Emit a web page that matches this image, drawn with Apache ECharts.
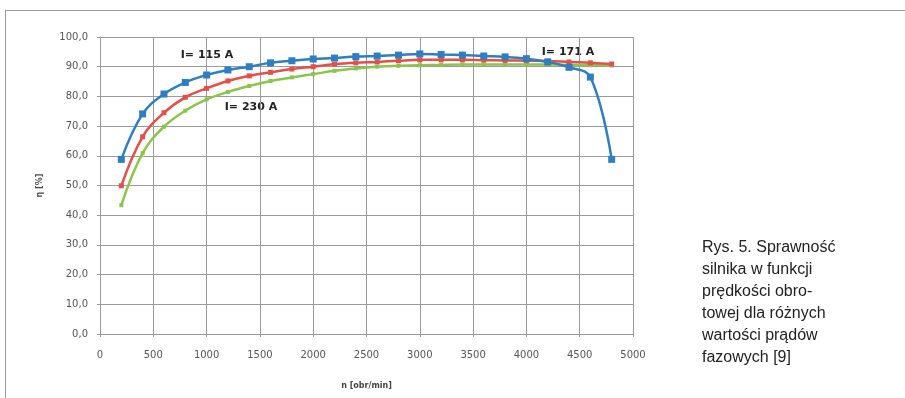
<!DOCTYPE html>
<html>
<head>
<meta charset="utf-8">
<script src="https://cdn.jsdelivr.net/npm/echarts@6/dist/echarts.min.js"></script>
<style>
  html, body { margin: 0; padding: 0; background: #fff; }
  #chart { width: 905px; height: 398px; }
</style>
</head>
<body>
<div id="chart"></div>
<script>
// prędkość obrotowa [obr/min]
var speeds = [200, 400, 600, 800, 1000, 1200, 1400, 1600, 1800, 2000, 2200, 2400,
  2600, 2800, 3000, 3200, 3400, 3600, 3800, 4000, 4200, 4400, 4600, 4800]
// sprawność [%] dla I = 115 A
var eta115 = [58.8, 74.1, 80.8, 84.7, 87.2, 88.9, 90.0, 91.3, 92.0, 92.6, 92.9, 93.4,
  93.6, 93.9, 94.3, 94.1, 93.9, 93.6, 93.3, 92.7, 91.6, 89.8, 86.5, 58.8]
// I = 171 A
var eta171 = [49.9, 66.4, 74.5, 79.7, 82.7, 85.2, 86.9, 88.1, 89.2, 90.0, 90.8, 91.3,
  91.6, 92.0, 92.3, 92.3, 92.3, 92.2, 92.1, 92.0, 91.9, 91.6, 91.3, 90.9]
// I = 230 A
var eta230 = [43.4, 60.9, 69.8, 75.2, 79.0, 81.5, 83.5, 85.2, 86.4, 87.5, 88.6, 89.4,
  90.0, 90.3, 90.5, 90.6, 90.7, 90.7, 90.7, 90.7, 90.7, 90.6, 90.5, 90.4]
var captionLines = ['Rys. 5. Sprawność', 'silnika w funkcji', 'prędkości obro-',
  'towej dla różnych', 'wartości prądów', 'fazowych [9]']

function pairs (ys) {
  return speeds.map(function (x, i) { return [x, ys[i]] })
}

var labelStyle = {
  fontFamily: 'DejaVu Sans',
  fontSize: 11,
  fontWeight: 'bold',
  fill: '#222'
}

var option = {
  animation: false,
  backgroundColor: '#fff',
  textStyle: { fontFamily: 'DejaVu Sans' },
  grid: { left: 100, top: 37, right: 272, bottom: 64 },
  xAxis: {
    type: 'value',
    min: 0,
    max: 5000,
    interval: 500,
    name: 'n [obr/min]',
    nameLocation: 'middle',
    nameGap: 48,
    nameTextStyle: { fontSize: 8, fontWeight: 'bold', color: '#444' },
    axisLine: { lineStyle: { color: '#999' } },
    axisTick: { show: true, length: 3, lineStyle: { color: '#999' } },
    axisLabel: {
      fontSize: 10,
      color: '#555',
      margin: 16,
      formatter: function (v) { return String(v) }
    },
    splitLine: { lineStyle: { color: '#9a9a9a', width: 1 } }
  },
  yAxis: {
    type: 'value',
    min: 0,
    max: 100,
    interval: 10,
    name: 'η [%]',
    nameLocation: 'middle',
    nameGap: 56,
    nameRotate: 90,
    nameTextStyle: { fontSize: 8, fontWeight: 'bold', color: '#444' },
    axisLine: { show: true, lineStyle: { color: '#999' } },
    axisTick: { show: true, length: 3, lineStyle: { color: '#999' } },
    axisLabel: {
      fontSize: 10,
      color: '#555',
      margin: 12,
      formatter: function (v) { return v.toFixed(1).replace('.', ',') }
    },
    splitLine: { lineStyle: { color: '#9a9a9a', width: 1 } }
  },
  series: [
    {
      name: 'I= 230 A',
      type: 'line',
      smooth: 0.4,
      data: pairs(eta230),
      showAllSymbol: true,
      symbol: 'rect',
      symbolSize: 4,
      lineStyle: { color: '#8cc44e', width: 2.5 },
      itemStyle: { color: '#8cc44e' },
      z: 2
    },
    {
      name: 'I= 171 A',
      type: 'line',
      smooth: 0.4,
      data: pairs(eta171),
      showAllSymbol: true,
      symbol: 'rect',
      symbolSize: 5,
      lineStyle: { color: '#e2504a', width: 2.5 },
      itemStyle: { color: '#e2504a' },
      z: 3
    },
    {
      name: 'I= 115 A',
      type: 'line',
      smooth: 0.4,
      data: pairs(eta115),
      showAllSymbol: true,
      symbol: 'rect',
      symbolSize: 7,
      lineStyle: { color: '#2f7ebf', width: 2.5 },
      itemStyle: { color: '#2f7ebf' },
      z: 4
    }
  ],
  graphic: [
    // ramka rysunku (góra i lewa krawędź)
    { type: 'line', shape: { x1: 5, y1: 10.5, x2: 905, y2: 10.5 }, style: { stroke: '#999', lineWidth: 1 } },
    { type: 'line', shape: { x1: 5.5, y1: 10, x2: 5.5, y2: 398 }, style: { stroke: '#999', lineWidth: 1 } },
    { type: 'text', x: 207, y: 55, style: Object.assign({ text: 'I= 115 A', align: 'center', verticalAlign: 'middle' }, labelStyle) },
    { type: 'text', x: 251, y: 107, style: Object.assign({ text: 'I= 230 A', align: 'center', verticalAlign: 'middle' }, labelStyle) },
    { type: 'text', x: 568, y: 52, style: Object.assign({ text: 'I= 171 A', align: 'center', verticalAlign: 'middle' }, labelStyle) },
    {
      type: 'text',
      left: 702,
      top: 237,
      style: {
        text: captionLines.join('\n'),
        fontFamily: 'Liberation Sans',
        fontSize: 16,
        lineHeight: 22,
        fill: '#222'
      }
    }
  ]
}

var myChart = echarts.init(document.getElementById('chart'))
myChart.setOption(option)
</script>
</body>
</html>
